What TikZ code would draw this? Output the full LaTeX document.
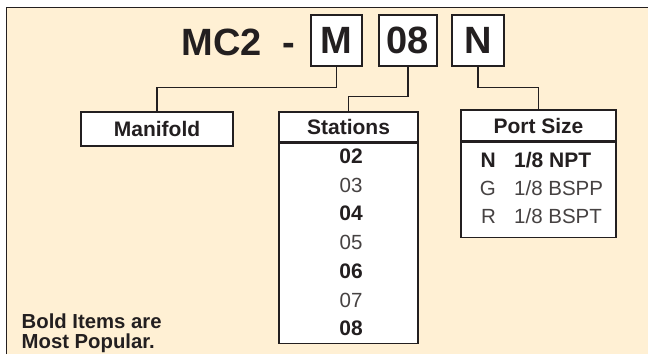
\documentclass[tikz,border=0pt]{standalone}
\usepackage{fontspec}
\setmainfont{Liberation Sans}
\usetikzlibrary{calc}
\definecolor{cream}{RGB}{255,240,212}
\definecolor{ink}{RGB}{35,31,32}
\definecolor{lite}{RGB}{70,66,66}
\begin{document}
\begin{tikzpicture}[x=1pt,y=-1pt,
  codebox/.style={draw=ink, fill=white, line width=1.2pt, inner sep=0pt, minimum height=51pt,
    text=ink, font=\bfseries\fontsize{38}{40}\selectfont},
  titletext/.style={inner sep=0pt, text=ink, font=\bfseries\fontsize{38}{40}\selectfont},
  hdr/.style={draw=ink, fill=white, line width=1.2pt, inner sep=0pt,
    text=ink, font=\bfseries\fontsize{21}{24}\selectfont},
  panel/.style={draw=ink, fill=white, line width=1.2pt, inner sep=0pt},
  boldrow/.style={inner sep=0pt, text=ink, font=\bfseries\fontsize{21}{24}\selectfont},
  literow/.style={inner sep=0pt, text=lite, font=\fontsize{20.5}{24}\selectfont},
  note/.style={inner sep=0pt, text=ink, font=\bfseries\fontsize{20.3}{22}\selectfont},
  conn/.style={draw=ink, line width=1.2pt}]
\useasboundingbox (0,0) rectangle (648,354);
% background panel
\fill[cream] (6.5,7.5) rectangle (648,354);
\draw[ink, line width=1.5pt] (6.5,354) -- (6.5,7.5) -- (648,7.5);

% title
\node[titletext, anchor=base] (mc) at (221.5,55) {MC2};
\node[titletext, anchor=base] (dash) at (288.5,55) {-};
\node[codebox, minimum width=51pt] (Mbox) at (336.5,40.5) {M};
\node[codebox, minimum width=58pt] (Sbox) at (408,40.5) {08};
\node[codebox, minimum width=52pt] (Nbox) at (478,40.5) {N};

% category boxes
\node[hdr, minimum width=152pt, minimum height=34pt] (man) at (157,129) {Manifold};
\node[hdr, minimum width=139pt, minimum height=30pt] (sthead) at (348.5,127) {Stations};
\node[panel, minimum width=139pt, minimum height=200pt, anchor=north] (stbody) at (sthead.south) {};
\node[hdr, minimum width=155pt, minimum height=31pt] (pthead) at (538.5,125.5) {Port Size};
\node[panel, minimum width=155pt, minimum height=95pt, anchor=north] (ptbody) at (pthead.south) {};

% connectors
\draw[conn] (Mbox.south) -- ++(0,21) -| (man.north);
\draw[conn] (Sbox.south) -- ++(0,30) -| (sthead.north);
\draw[conn] (Nbox.south) -- ++(0,21) -| (pthead.north);

% stations list
\node[boldrow, anchor=base] (s02) at (351,163.5) {02};
\node[literow, anchor=base] (s03) at (351,192.2) {03};
\node[boldrow, anchor=base] (s04) at (351,220.9) {04};
\node[literow, anchor=base] (s05) at (351,249.6) {05};
\node[boldrow, anchor=base] (s06) at (351,278.3) {06};
\node[literow, anchor=base] (s07) at (351,307) {07};
\node[boldrow, anchor=base] (s08) at (351,335.7) {08};

% port size list
\node[boldrow, anchor=base east] (pN) at (496,167.5) {N};
\node[boldrow, anchor=base west] (pNv) at (514,167.5) {1/8 NPT};
\node[literow, anchor=base east] (pG) at (496,195.5) {G};
\node[literow, anchor=base west] (pGv) at (514,195.5) {1/8 BSPP};
\node[literow, anchor=base east] (pR) at (496,223.5) {R};
\node[literow, anchor=base west] (pRv) at (514,223.5) {1/8 BSPT};

% note
\node[note, anchor=base west] (note1) at (21.5,328) {Bold Items are};
\node[note, anchor=base west] (note2) at (21.5,348) {Most Popular.};
\end{tikzpicture}
\end{document}
